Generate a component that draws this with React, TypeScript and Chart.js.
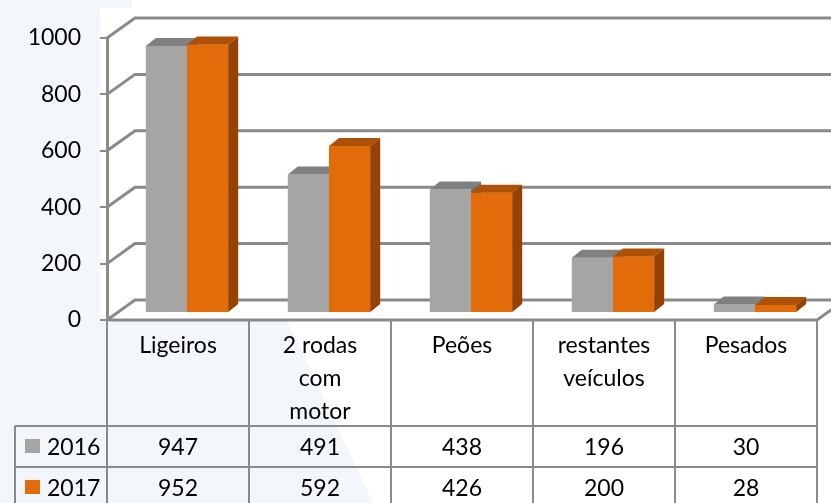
import React, { useEffect, useRef } from 'react';
import { Chart, registerables } from 'chart.js';

Chart.register(...registerables);

const categoryLines: string[][] = [
  ['Ligeiros'],
  ['2 rodas', 'com', 'motor'],
  ['Peões'],
  ['restantes', 'veículos'],
  ['Pesados'],
];
const categories = categoryLines.map((l) => l.join(' '));
const seriesNames = ['2016', '2017'];
const values2016 = [947, 491, 438, 196, 30];
const values2017 = [952, 592, 426, 200, 28];
const yTicks = [0, 200, 400, 600, 800, 1000];

const FONT = 'Lato, "Open Sans", sans-serif';
const FONT_SIZE = 23;
const LINE = '#8a8a8a';
const GRAY = '#a5a5a5';
const GRAY_TOP = '#808080';
const GRAY_SIDE = '#6e6e6e';
const ORANGE = '#e36c0a';
const ORANGE_TOP = '#ad5008';
const ORANGE_SIDE = '#944205';

// 3D geometry (pixels)
const WALL_DX = 28;
const WALL_DY = -20;
const BAR_SHIFT_X = 9;
const BAR_SHIFT_Y = -7;
const BAR_DX = 10;
const BAR_DY = -8;

const threeD = {
  id: 'threeD',
  beforeDraw(chart: any) {
    const { ctx, chartArea: a, width, height } = chart;
    const y = chart.scales.y;
    ctx.save();
    ctx.fillStyle = '#f3f6fb';
    ctx.fillRect(0, 0, width, height);
    ctx.fillStyle = '#ffffff';
    ctx.beginPath();
    ctx.moveTo(132, 0);
    ctx.lineTo(width, 0);
    ctx.lineTo(width, height);
    ctx.lineTo(373, height);
    ctx.lineTo(287, a.bottom);
    ctx.lineTo(a.left - 7, a.bottom);
    ctx.lineTo(a.left - 7, 8);
    ctx.lineTo(132, 8);
    ctx.closePath();
    ctx.fill();

    ctx.strokeStyle = LINE;
    ctx.lineWidth = 3;
    ctx.lineJoin = 'miter';
    for (const v of yTicks) {
      const py = y.getPixelForValue(v);
      ctx.beginPath();
      ctx.moveTo(a.left, py);
      ctx.lineTo(a.left + WALL_DX, py + WALL_DY);
      ctx.lineTo(width + 5, py + WALL_DY);
      ctx.stroke();
    }
    ctx.beginPath();
    ctx.moveTo(a.left, a.bottom);
    ctx.lineTo(a.right, a.bottom);
    ctx.lineTo(a.right + WALL_DX, a.bottom + WALL_DY);
    ctx.stroke();
    ctx.restore();
  },
  beforeDatasetsDraw(chart: any) {
    chart.ctx.save();
    chart.ctx.translate(BAR_SHIFT_X, BAR_SHIFT_Y);
  },
  afterDatasetsDraw(chart: any) {
    const ctx = chart.ctx;
    const m0 = chart.getDatasetMeta(0);
    const m1 = chart.getDatasetMeta(1);
    const poly = (pts: number[][], color: string) => {
      ctx.fillStyle = color;
      ctx.beginPath();
      ctx.moveTo(pts[0][0], pts[0][1]);
      for (let k = 1; k < pts.length; k++) ctx.lineTo(pts[k][0], pts[k][1]);
      ctx.closePath();
      ctx.fill();
    };
    for (let i = 0; i < m0.data.length; i++) {
      const g = m0.data[i].getProps(['x', 'y', 'base', 'width'], true);
      const o = m1.data[i].getProps(['x', 'y', 'base', 'width'], true);
      const gx0 = g.x - g.width / 2;
      const gx1 = g.x + g.width / 2;
      const ox0 = o.x - o.width / 2;
      const ox1 = o.x + o.width / 2;
      poly([[gx0, g.y], [gx1, g.y], [gx1 + BAR_DX, g.y + BAR_DY], [gx0 + BAR_DX, g.y + BAR_DY]], GRAY_TOP);
      poly([[gx1, g.y], [gx1 + BAR_DX, g.y + BAR_DY], [gx1 + BAR_DX, g.base + BAR_DY], [gx1, g.base]], GRAY_SIDE);
      m1.data[i].draw(ctx);
      poly([[ox0, o.y], [ox1, o.y], [ox1 + BAR_DX, o.y + BAR_DY], [ox0 + BAR_DX, o.y + BAR_DY]], ORANGE_TOP);
      poly([[ox1, o.y], [ox1 + BAR_DX, o.y + BAR_DY], [ox1 + BAR_DX, o.base + BAR_DY], [ox1, o.base]], ORANGE_SIDE);
    }
    ctx.restore();
  },
  afterDraw(chart: any) {
    const { ctx, chartArea: a } = chart;
    const x = chart.scales.x;
    const n = categories.length;
    const colW = (a.right - a.left) / n;
    const top = a.bottom;
    const headerBottom = top + 106;
    const rowH = 41;
    const bottom = chart.height + 5;
    const legendLeft = 15;
    ctx.save();
    ctx.strokeStyle = LINE;
    ctx.lineWidth = 2;
    for (let i = 0; i <= n; i++) {
      const lx = i === n ? a.right : x.getPixelForValue(i) - colW / 2;
      ctx.beginPath();
      ctx.moveTo(lx, top);
      ctx.lineTo(lx, bottom);
      ctx.stroke();
    }
    ctx.beginPath();
    ctx.moveTo(legendLeft, headerBottom);
    ctx.lineTo(legendLeft, bottom);
    ctx.stroke();
    for (let r = 0; r < 2; r++) {
      const ly = headerBottom + r * rowH;
      ctx.beginPath();
      ctx.moveTo(legendLeft, ly);
      ctx.lineTo(a.right, ly);
      ctx.stroke();
    }
    ctx.fillStyle = '#000';
    ctx.font = `${FONT_SIZE}px ${FONT}`;
    ctx.textAlign = 'center';
    ctx.textBaseline = 'alphabetic';
    categoryLines.forEach((lines, i) => {
      const cx = x.getPixelForValue(i);
      lines.forEach((t, j) => ctx.fillText(t, cx, top + 33 + j * 33));
    });
    const rows = [values2016, values2017];
    const colors = [GRAY, ORANGE];
    rows.forEach((vals, r) => {
      const base = headerBottom + r * rowH + 29;
      ctx.textAlign = 'center';
      ctx.fillStyle = '#000';
      vals.forEach((v, i) => ctx.fillText(String(v), x.getPixelForValue(i), base));
      ctx.fillStyle = colors[r];
      ctx.fillRect(25, base - 16, 15, 14);
      ctx.fillStyle = '#000';
      ctx.textAlign = 'left';
      ctx.fillText(seriesNames[r], 47, base);
    });
    ctx.restore();
  },
};

export default function App() {
  const ref = useRef<HTMLCanvasElement>(null);
  useEffect(() => {
    if (!ref.current) return;
    const chart = new Chart(ref.current, {
      type: 'bar',
      data: {
        labels: categories,
        datasets: [
          { label: seriesNames[0], data: values2016, backgroundColor: GRAY, borderWidth: 0 },
          { label: seriesNames[1], data: values2017, backgroundColor: ORANGE, borderWidth: 0 },
        ],
      },
      options: {
        responsive: false,
        animation: false,
        devicePixelRatio: 1,
        layout: { padding: { top: 38, right: 14, bottom: 183, left: 0 } },
        plugins: { legend: { display: false }, tooltip: { enabled: false } },
        datasets: { bar: { categoryPercentage: 0.58, barPercentage: 1 } },
        scales: {
          x: { display: false },
          y: {
            min: 0,
            max: 1000,
            afterFit: (s: any) => {
              s.width = 107;
            },
            afterBuildTicks: (s: any) => {
              s.ticks = yTicks.map((v) => ({ value: v }));
            },
            ticks: {
              color: '#000',
              font: { family: FONT, size: FONT_SIZE },
              padding: 19,
              callback: (v: any) => String(v),
            },
            grid: { drawOnChartArea: false, drawTicks: true, tickLength: 7, color: LINE, lineWidth: 2 },
            border: { display: true, color: LINE, width: 3 },
          },
        },
      },
      plugins: [threeD],
    });
    return () => chart.destroy();
  }, []);
  return (
    <div style={{ position: 'fixed', left: 0, top: 0, width: 831, height: 503 }}>
      <canvas ref={ref} width={831} height={503} style={{ display: 'block' }} />
    </div>
  );
}
